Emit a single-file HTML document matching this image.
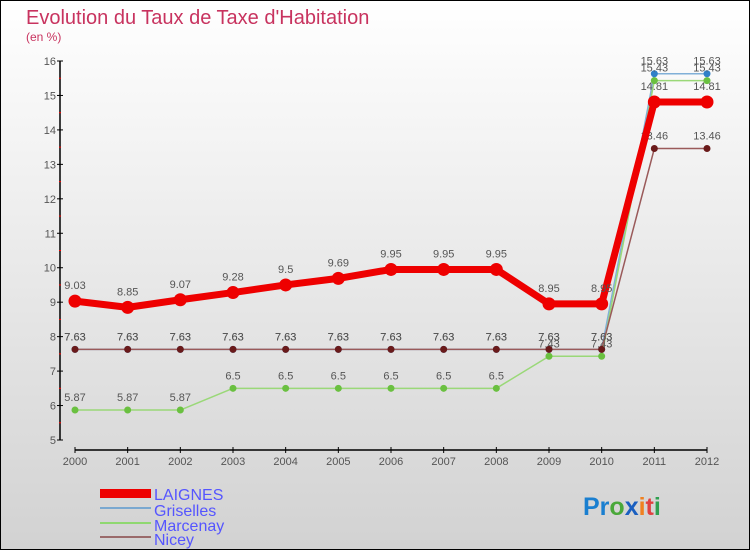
<!DOCTYPE html>
<html><head><meta charset="utf-8"><style>
html,body{margin:0;padding:0}
body{width:750px;height:550px;overflow:hidden;font-family:"Liberation Sans",sans-serif}
</style></head><body>
<svg width="750" height="550" xmlns="http://www.w3.org/2000/svg" font-family="Liberation Sans, sans-serif">
<defs><linearGradient id="bg" x1="0" y1="0" x2="0" y2="1"><stop offset="0" stop-color="#ffffff"/><stop offset="1" stop-color="#d2d2d2"/></linearGradient></defs>
<rect x="0.5" y="0.5" width="749" height="549" fill="url(#bg)" stroke="#000"/>
<text x="26" y="24" font-size="20" fill="#c8335f">Evolution du Taux de Taxe d'Habitation</text>
<text x="26" y="41" font-size="12" fill="#c8335f">(en %)</text>
<g id="axes"></g>
<g id="series"></g>
<g>
<rect x="100" y="489" width="51" height="9" fill="#e00"/>
<text x="154" y="500" font-size="16" fill="#5555ff">LAIGNES</text>
<rect x="100" y="507" width="51" height="2" fill="#7aa8d0"/>
<text x="154" y="516" font-size="16" fill="#5555ff">Griselles</text>
<rect x="100" y="522" width="51" height="2" fill="#8fd870"/>
<text x="154" y="531" font-size="16" fill="#5555ff">Marcenay</text>
<rect x="100" y="536" width="51" height="2" fill="#9a6a6a"/>
<text x="154" y="545" font-size="16" fill="#5555ff">Nicey</text>
</g>
<text x="583" y="515" font-size="25" font-weight="bold"><tspan fill="#1a7fd0">Pr</tspan><tspan fill="#4aa83a">o</tspan><tspan fill="#1a5fc0">x</tspan><tspan fill="#f08020">i</tspan><tspan fill="#e04040">t</tspan><tspan fill="#30a050">i</tspan></text>
</svg>
<script>
const years=[2000,2001,2002,2003,2004,2005,2006,2007,2008,2009,2010,2011,2012];
const yTicks=[5,6,7,8,9,10,11,12,13,14,15,16];
const laignes=[9.03,8.85,9.07,9.28,9.5,9.69,9.95,9.95,9.95,8.95,8.95,14.81,14.81];
const griselles=[7.63,7.63,7.63,7.63,7.63,7.63,7.63,7.63,7.63,7.63,7.63,15.63,15.63];
const marcenay=[5.87,5.87,5.87,6.5,6.5,6.5,6.5,6.5,6.5,7.43,7.43,15.43,15.43];
const nicey=[7.63,7.63,7.63,7.63,7.63,7.63,7.63,7.63,7.63,7.63,7.63,13.46,13.46];
const NS="http://www.w3.org/2000/svg";
const X=i=>75+i*(707-75)/12;
const Y=v=>440-(v-5)*(440-61)/11;
function mk(t,a,p){const e=document.createElementNS(NS,t);for(const k in a)e.setAttribute(k,a[k]);p.appendChild(e);return e;}
const ax=document.getElementById('axes');
let e=mk('line',{x1:60,y1:Y(16),x2:60,y2:Y(5),stroke:'#000','stroke-width':1.5},ax);


e=mk('line',{x1:X(0),y1:450,x2:X(12),y2:450,stroke:'#000','stroke-width':1.5},ax);


yTicks.forEach(v=>{
 mk('line',{x1:57,y1:Y(v),x2:63,y2:Y(v),stroke:'#000'},ax);
 if(v<16)mk('line',{x1:59,y1:Y(v+0.5),x2:61,y2:Y(v+0.5),stroke:'#f00'},ax);
 const t=mk('text',{x:56,y:Y(v)+4,'font-size':11,fill:'#555','text-anchor':'end'},ax);
 t.textContent=v;
 
 
});
years.forEach((y,i)=>{
 mk('line',{x1:X(i),y1:447,x2:X(i),y2:453,stroke:'#000'},ax);
 const t=mk('text',{x:X(i),y:465,'font-size':11,fill:'#555','text-anchor':'middle'},ax);
 t.textContent=y;
 
 
});
const sg=document.getElementById('series');
function draw(name,data,color,dot,w,r,labOff){
 const g=mk('g',{},sg);
 
 
 mk('polyline',{points:data.map((v,i)=>X(i)+','+Y(v)).join(' '),fill:'none',stroke:color,'stroke-width':w,'stroke-linejoin':'round'},g);
 data.forEach((v,i)=>{
  const c=mk('circle',{cx:X(i),cy:Y(v),r:r,fill:dot},g);
  
  
  const t=mk('text',{x:X(i),y:Y(v)+labOff,'font-size':11,fill:'#555','text-anchor':'middle'},g);
  t.textContent=v;
  
  
 });
}
draw('griselles',griselles,'#80b0d8','#3080c8',1.5,3.5,-9);
draw('marcenay',marcenay,'#9ad878','#6ac040',1.5,3.5,-9);
draw('nicey',nicey,'#9a5a5a','#6a1a1a',1.5,3.5,-9);
draw('laignes',laignes,'#ee0000','#ee0000',7,6.5,-12);
</script>
</body></html>
